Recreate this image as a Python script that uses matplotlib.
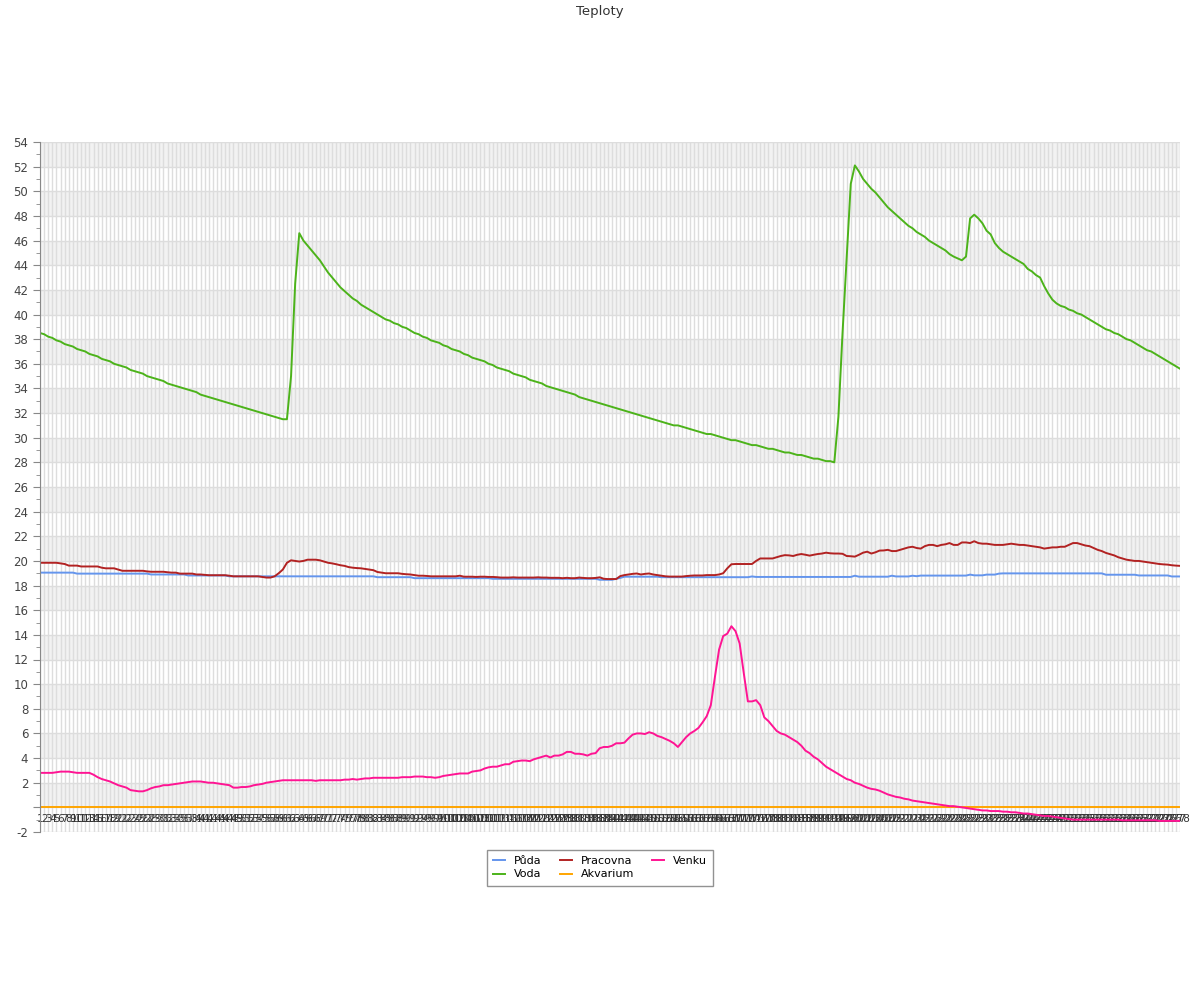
import numpy as np
import matplotlib
matplotlib.use("Agg")
import matplotlib.pyplot as plt
from matplotlib.ticker import MultipleLocator, FuncFormatter

# poradi mereni 1..278
mereni = np.arange(1, 279)

puda = [
    19.05, 19.05, 19.05, 19.05, 19.05, 19.05, 19.05, 19.05, 19.05, 18.97,
    18.97, 18.97, 18.97, 18.97, 18.97, 18.97, 18.97, 18.97, 18.97, 18.97,
    18.97, 18.97, 18.97, 18.97, 18.97, 18.97, 18.97, 18.9, 18.9, 18.9,
    18.9, 18.9, 18.9, 18.9, 18.9, 18.9, 18.82, 18.82, 18.82, 18.82,
    18.82, 18.82, 18.82, 18.82, 18.82, 18.82, 18.75, 18.75, 18.75, 18.75,
    18.75, 18.75, 18.75, 18.75, 18.75, 18.75, 18.75, 18.75, 18.75, 18.75,
    18.75, 18.75, 18.75, 18.75, 18.75, 18.75, 18.75, 18.75, 18.75, 18.75,
    18.75, 18.75, 18.75, 18.75, 18.75, 18.75, 18.75, 18.75, 18.75, 18.75,
    18.75, 18.75, 18.68, 18.68, 18.68, 18.68, 18.68, 18.68, 18.68, 18.68,
    18.68, 18.6, 18.6, 18.6, 18.6, 18.6, 18.6, 18.6, 18.6, 18.6,
    18.6, 18.6, 18.6, 18.6, 18.6, 18.6, 18.6, 18.6, 18.6, 18.6,
    18.55, 18.55, 18.55, 18.55, 18.55, 18.55, 18.55, 18.55, 18.55, 18.55,
    18.55, 18.55, 18.55, 18.55, 18.55, 18.55, 18.55, 18.55, 18.55, 18.55,
    18.55, 18.55, 18.55, 18.55, 18.55, 18.55, 18.47, 18.47, 18.47, 18.47,
    18.55, 18.62, 18.72, 18.72, 18.72, 18.72, 18.72, 18.72, 18.72, 18.72,
    18.72, 18.68, 18.68, 18.68, 18.68, 18.68, 18.68, 18.68, 18.68, 18.68,
    18.68, 18.68, 18.68, 18.68, 18.68, 18.68, 18.68, 18.68, 18.68, 18.68,
    18.68, 18.68, 18.68, 18.74, 18.7, 18.7, 18.7, 18.7, 18.7, 18.7,
    18.7, 18.7, 18.7, 18.7, 18.7, 18.7, 18.7, 18.7, 18.7, 18.7,
    18.7, 18.7, 18.7, 18.7, 18.7, 18.7, 18.7, 18.7, 18.8, 18.72,
    18.72, 18.72, 18.72, 18.72, 18.72, 18.72, 18.72, 18.8, 18.74, 18.74,
    18.74, 18.74, 18.8, 18.76, 18.81, 18.81, 18.81, 18.81, 18.81, 18.81,
    18.81, 18.81, 18.81, 18.81, 18.81, 18.81, 18.89, 18.83, 18.83, 18.83,
    18.89, 18.89, 18.89, 18.97, 18.99, 18.99, 18.99, 18.99, 18.99, 18.99,
    18.99, 18.99, 18.99, 18.99, 18.99, 18.99, 18.99, 18.99, 18.99, 18.99,
    18.99, 18.99, 18.99, 18.99, 18.99, 18.99, 18.99, 18.99, 18.99, 18.88,
    18.88, 18.88, 18.88, 18.88, 18.88, 18.88, 18.88, 18.82, 18.82, 18.82,
    18.82, 18.82, 18.82, 18.82, 18.82, 18.74, 18.74, 18.74,
]

pracovna = [
    19.85, 19.85, 19.85, 19.85, 19.85, 19.8, 19.75, 19.62, 19.62, 19.62,
    19.55, 19.55, 19.55, 19.55, 19.55, 19.45, 19.4, 19.4, 19.4, 19.3,
    19.2, 19.2, 19.2, 19.2, 19.2, 19.2, 19.15, 19.12, 19.12, 19.12,
    19.12, 19.08, 19.05, 19.05, 18.97, 18.97, 18.97, 18.97, 18.9, 18.9,
    18.87, 18.84, 18.84, 18.84, 18.84, 18.84, 18.8, 18.75, 18.75, 18.75,
    18.75, 18.75, 18.75, 18.75, 18.7, 18.65, 18.65, 18.75, 19.0, 19.3,
    19.85, 20.05, 20.0, 19.95, 20.0, 20.1, 20.1, 20.1, 20.05, 19.95,
    19.85, 19.8, 19.73, 19.65, 19.6, 19.5, 19.45, 19.42, 19.4, 19.35,
    19.3, 19.25, 19.1, 19.05, 19.0, 19.0, 19.0, 19.0, 18.95, 18.92,
    18.9, 18.85, 18.8, 18.8, 18.78, 18.75, 18.75, 18.75, 18.75, 18.75,
    18.75, 18.75, 18.8, 18.72, 18.72, 18.72, 18.7, 18.72, 18.72, 18.7,
    18.7, 18.68, 18.65, 18.65, 18.65, 18.67, 18.65, 18.65, 18.65, 18.65,
    18.65, 18.67, 18.65, 18.65, 18.63, 18.63, 18.63, 18.6, 18.63, 18.6,
    18.6, 18.65, 18.62, 18.6, 18.6, 18.62, 18.67, 18.55, 18.53, 18.53,
    18.53, 18.77, 18.85, 18.9, 18.95, 18.98, 18.9, 18.95, 18.98, 18.9,
    18.85, 18.8, 18.75, 18.73, 18.73, 18.73, 18.73, 18.77, 18.8, 18.82,
    18.82, 18.82, 18.85, 18.85, 18.85, 18.9, 19.0, 19.4, 19.73, 19.75,
    19.75, 19.75, 19.75, 19.75, 20.0, 20.2, 20.2, 20.2, 20.2, 20.3,
    20.4, 20.47, 20.45, 20.4, 20.5, 20.56, 20.5, 20.43, 20.5, 20.56,
    20.6, 20.67, 20.62, 20.6, 20.6, 20.58, 20.4, 20.38, 20.35, 20.5,
    20.67, 20.75, 20.6, 20.7, 20.84, 20.85, 20.9, 20.8, 20.8, 20.9,
    21.0, 21.1, 21.15, 21.05, 21.0, 21.2, 21.3, 21.3, 21.2, 21.3,
    21.35, 21.45, 21.3, 21.3, 21.5, 21.5, 21.45, 21.6, 21.45, 21.4,
    21.4, 21.35, 21.3, 21.3, 21.3, 21.35, 21.4, 21.35, 21.3, 21.3,
    21.25, 21.2, 21.15, 21.1, 21.0, 21.05, 21.1, 21.1, 21.15, 21.15,
    21.3, 21.45, 21.45, 21.35, 21.25, 21.2, 21.05, 20.9, 20.8, 20.65,
    20.55, 20.45, 20.3, 20.2, 20.1, 20.05, 20.0, 20.0, 19.95, 19.9,
    19.85, 19.8, 19.75, 19.72, 19.7, 19.65, 19.62, 19.6,
]

venku = [
    2.8, 2.8, 2.8, 2.8, 2.85, 2.9, 2.9, 2.9, 2.85, 2.8,
    2.8, 2.8, 2.8, 2.65, 2.45, 2.3, 2.2, 2.1, 1.95, 1.8,
    1.7, 1.6, 1.4, 1.35, 1.3, 1.3, 1.4, 1.55, 1.65, 1.7,
    1.8, 1.8, 1.85, 1.9, 1.95, 2.0, 2.05, 2.1, 2.1, 2.1,
    2.05, 2.0, 2.0, 1.95, 1.9, 1.85, 1.8, 1.6, 1.6, 1.65,
    1.65, 1.7, 1.8, 1.85, 1.9, 2.0, 2.05, 2.1, 2.15, 2.2,
    2.2, 2.2, 2.2, 2.2, 2.2, 2.2, 2.2, 2.15, 2.2, 2.2,
    2.2, 2.2, 2.2, 2.2, 2.25, 2.25, 2.3, 2.25, 2.3, 2.35,
    2.35, 2.4, 2.4, 2.4, 2.4, 2.4, 2.4, 2.4, 2.45, 2.45,
    2.45, 2.5, 2.5, 2.5, 2.45, 2.45, 2.4, 2.45, 2.55, 2.6,
    2.65, 2.7, 2.75, 2.75, 2.75, 2.9, 2.95, 3.0, 3.15, 3.25,
    3.3, 3.3, 3.4, 3.5, 3.5, 3.7, 3.75, 3.8, 3.8, 3.75,
    3.9, 4.0, 4.1, 4.2, 4.05, 4.2, 4.2, 4.3, 4.5, 4.5,
    4.35, 4.35, 4.3, 4.2, 4.35, 4.4, 4.8, 4.9, 4.9, 5.0,
    5.2, 5.2, 5.25, 5.6, 5.9, 6.0, 6.0, 5.95, 6.1, 6.0,
    5.8, 5.7, 5.55, 5.4, 5.2, 4.9, 5.3, 5.7, 6.0, 6.2,
    6.45, 6.9, 7.4, 8.3, 10.6, 12.8, 13.9, 14.1, 14.7, 14.3,
    13.3, 10.9, 8.6, 8.6, 8.7, 8.3, 7.3, 7.0, 6.6, 6.2,
    6.0, 5.9, 5.7, 5.5, 5.3, 5.0, 4.6, 4.4, 4.1, 3.9,
    3.6, 3.3, 3.1, 2.9, 2.7, 2.5, 2.3, 2.2, 2.0, 1.9,
    1.75, 1.6, 1.5, 1.45, 1.35, 1.2, 1.05, 0.95, 0.85, 0.8,
    0.7, 0.65, 0.55, 0.5, 0.45, 0.4, 0.35, 0.3, 0.25, 0.2,
    0.15, 0.1, 0.1, 0.05, 0.0, -0.05, -0.1, -0.15, -0.2, -0.25,
    -0.25, -0.3, -0.3, -0.3, -0.35, -0.35, -0.4, -0.4, -0.45, -0.5,
    -0.5, -0.55, -0.6, -0.65, -0.7, -0.7, -0.75, -0.8, -0.85, -0.9,
    -0.95, -1.0, -1.0, -1.0, -1.0, -1.0, -1.0, -1.0, -1.0, -1.0,
    -1.0, -1.0, -1.0, -1.05, -1.05, -1.05, -1.05, -1.05, -1.05, -1.05,
    -1.05, -1.05, -1.1, -1.1, -1.1, -1.1, -1.1, -1.1,
]

voda = [
    38.5, 38.4, 38.2, 38.1, 37.9, 37.8, 37.6, 37.5, 37.4, 37.2,
    37.1, 37.0, 36.8, 36.7, 36.6, 36.4, 36.3, 36.2, 36.0, 35.9,
    35.8, 35.7, 35.5, 35.4, 35.3, 35.2, 35.0, 34.9, 34.8, 34.7,
    34.6, 34.4, 34.3, 34.2, 34.1, 34.0, 33.9, 33.8, 33.7, 33.5,
    33.4, 33.3, 33.2, 33.1, 33.0, 32.9, 32.8, 32.7, 32.6, 32.5,
    32.4, 32.3, 32.2, 32.1, 32.0, 31.9, 31.8, 31.7, 31.6, 31.5,
    31.5, 35.0, 42.5, 46.6, 46.0, 45.6, 45.2, 44.8, 44.4, 43.9,
    43.4, 43.0, 42.6, 42.2, 41.9, 41.6, 41.3, 41.1, 40.8, 40.6,
    40.4, 40.2, 40.0, 39.8, 39.6, 39.5, 39.3, 39.2, 39.0, 38.9,
    38.7, 38.5, 38.4, 38.2, 38.1, 37.9, 37.8, 37.7, 37.5, 37.4,
    37.2, 37.1, 37.0, 36.8, 36.7, 36.5, 36.4, 36.3, 36.2, 36.0,
    35.9, 35.7, 35.6, 35.5, 35.4, 35.2, 35.1, 35.0, 34.9, 34.7,
    34.6, 34.5, 34.4, 34.2, 34.1, 34.0, 33.9, 33.8, 33.7, 33.6,
    33.5, 33.3, 33.2, 33.1, 33.0, 32.9, 32.8, 32.7, 32.6, 32.5,
    32.4, 32.3, 32.2, 32.1, 32.0, 31.9, 31.8, 31.7, 31.6, 31.5,
    31.4, 31.3, 31.2, 31.1, 31.0, 31.0, 30.9, 30.8, 30.7, 30.6,
    30.5, 30.4, 30.3, 30.3, 30.2, 30.1, 30.0, 29.9, 29.8, 29.8,
    29.7, 29.6, 29.5, 29.4, 29.4, 29.3, 29.2, 29.1, 29.1, 29.0,
    28.9, 28.8, 28.8, 28.7, 28.6, 28.6, 28.5, 28.4, 28.3, 28.3,
    28.2, 28.1, 28.1, 28.0, 31.7, 38.5, 44.5, 50.6, 52.1, 51.6,
    51.0, 50.6, 50.2, 49.9, 49.5, 49.1, 48.7, 48.4, 48.1, 47.8,
    47.5, 47.2, 47.0, 46.7, 46.5, 46.3, 46.0, 45.8, 45.6, 45.4,
    45.2, 44.9, 44.7, 44.55, 44.4, 44.7, 47.8, 48.1, 47.8, 47.4,
    46.8, 46.5, 45.8, 45.4, 45.1, 44.9, 44.7, 44.5, 44.3, 44.1,
    43.7, 43.5, 43.2, 43.0, 42.3, 41.7, 41.2, 40.9, 40.7, 40.6,
    40.4, 40.3, 40.1, 40.0, 39.8, 39.6, 39.4, 39.2, 39.0, 38.8,
    38.7, 38.5, 38.4, 38.2, 38.0, 37.9, 37.7, 37.5, 37.3, 37.1,
    37.0, 36.8, 36.6, 36.4, 36.2, 36.0, 35.8, 35.6,
]

akvarium = [
    0, 0, 0, 0, 0, 0, 0, 0, 0, 0, 0, 0, 0, 0, 0, 0, 0, 0, 0, 0,
    0, 0, 0, 0, 0, 0, 0, 0, 0, 0, 0, 0, 0, 0, 0, 0, 0, 0, 0, 0,
    0, 0, 0, 0, 0, 0, 0, 0, 0, 0, 0, 0, 0, 0, 0, 0, 0, 0, 0, 0,
    0, 0, 0, 0, 0, 0, 0, 0, 0, 0, 0, 0, 0, 0, 0, 0, 0, 0, 0, 0,
    0, 0, 0, 0, 0, 0, 0, 0, 0, 0, 0, 0, 0, 0, 0, 0, 0, 0, 0, 0,
    0, 0, 0, 0, 0, 0, 0, 0, 0, 0, 0, 0, 0, 0, 0, 0, 0, 0, 0, 0,
    0, 0, 0, 0, 0, 0, 0, 0, 0, 0, 0, 0, 0, 0, 0, 0, 0, 0, 0, 0,
    0, 0, 0, 0, 0, 0, 0, 0, 0, 0, 0, 0, 0, 0, 0, 0, 0, 0, 0, 0,
    0, 0, 0, 0, 0, 0, 0, 0, 0, 0, 0, 0, 0, 0, 0, 0, 0, 0, 0, 0,
    0, 0, 0, 0, 0, 0, 0, 0, 0, 0, 0, 0, 0, 0, 0, 0, 0, 0, 0, 0,
    0, 0, 0, 0, 0, 0, 0, 0, 0, 0, 0, 0, 0, 0, 0, 0, 0, 0, 0, 0,
    0, 0, 0, 0, 0, 0, 0, 0, 0, 0, 0, 0, 0, 0, 0, 0, 0, 0, 0, 0,
    0, 0, 0, 0, 0, 0, 0, 0, 0, 0, 0, 0, 0, 0, 0, 0, 0, 0, 0, 0,
    0, 0, 0, 0, 0, 0, 0, 0, 0, 0, 0, 0, 0, 0, 0, 0, 0, 0,
]

fig = plt.figure(figsize=(12, 10), dpi=100)
ax = fig.add_axes([40 / 1200, 0.168, 1140 / 1200, 0.69])

# stridani sedych pasu po 2 stupnich
for spod in range(0, 54, 4):
    ax.axhspan(spod, spod + 2, color="#f2f2f2", zorder=0, lw=0)

ax.plot(mereni, puda, color="#6495ED", lw=1.4, label="Půda")
ax.plot(mereni, voda, color="#4CB31A", lw=1.4, label="Voda")
ax.plot(mereni, pracovna, color="#B22222", lw=1.4, label="Pracovna")
ax.plot(mereni, akvarium, color="#FFA500", lw=1.4, label="Akvarium")
ax.plot(mereni, venku, color="#FF1493", lw=1.4, label="Venku")

ax.set_xlim(1, 278)
ax.set_ylim(-2, 54)
ax.set_axisbelow(True)

ax.set_xticks(mereni)
ax.set_xticklabels([str(m) for m in mereni])
ax.yaxis.set_major_locator(MultipleLocator(2))
ax.yaxis.set_minor_locator(MultipleLocator(1))
ax.yaxis.set_major_formatter(FuncFormatter(lambda v, p: "" if v == 0 else "%g" % v))
ax.grid(True, which="major", color="#dddddd", lw=1)

for s in ["top", "right"]:
    ax.spines[s].set_visible(False)
ax.spines["bottom"].set_position(("data", 0))
ax.spines["bottom"].set_visible(False)
ax.spines["left"].set_color("#888888")

ax.tick_params(axis="x", length=0, pad=5, labelsize=7.5, labelcolor="#333333")
ax.tick_params(axis="y", which="major", length=5, color="#888888", labelsize=8.5, labelcolor="#444444")
ax.tick_params(axis="y", which="minor", length=3, color="#888888")

fig.text(0.5, 0.989, "Teploty", ha="center", va="center", fontsize=9.5, color="#333333")

fig.legend(loc="upper center", bbox_to_anchor=(0.5, 0.150), ncol=3, fontsize=8,
           frameon=True, fancybox=False, edgecolor="#777777", handlelength=1.1,
           handletextpad=0.8, columnspacing=1.6, borderpad=0.55, labelspacing=0.3,
           borderaxespad=0)

fig.savefig("out.png", dpi=100)
